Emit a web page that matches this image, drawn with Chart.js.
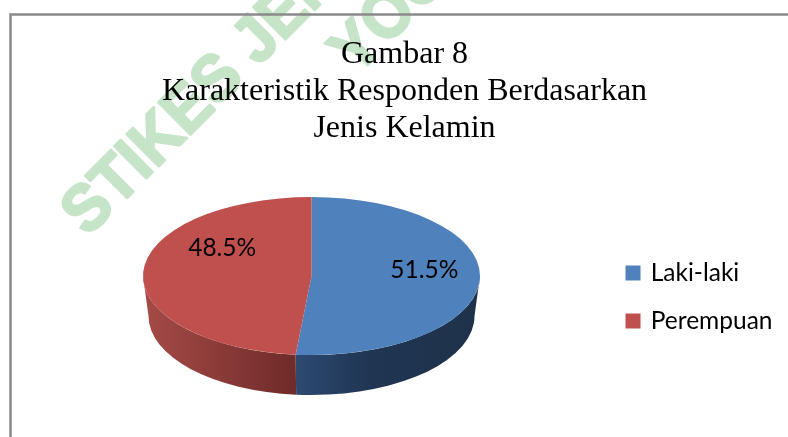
<!DOCTYPE html>
<html>
<head>
<meta charset="utf-8">
<title>Gambar 8</title>
<style>
  html, body { margin: 0; padding: 0; background: #fff; overflow: hidden; }
  #wrap { width: 788px; height: 437px; overflow: hidden; }
  canvas { display: block; }
</style>
<script src="https://cdn.jsdelivr.net/npm/chart.js@4/dist/chart.umd.min.js"></script>
</head>
<body>
<div id="wrap"><canvas id="pie" width="809" height="437"></canvas></div>
<script>
const categories = ['Laki-laki', 'Perempuan'];
const percentValues = [51.5, 48.5];
const sliceColors = ['#4F81BD', '#C0504D'];
const titleLines = ['Gambar 8', 'Karakteristik Responden Berdasarkan', 'Jenis Kelamin'];
const watermarkLines = ['STIKES JENDERAL', 'YOGYAKARTA'];

// the ellipse the round pie gets squashed onto
const tilt = { cx: 311.5, cy: 276, rx: 168.5, ry: 79, depth: 40, lowerRx: 163 };
const labelFont = 'Lato, sans-serif';

const sideGradients = {
    0: [[292, '#2E4B73'], [370, '#1F3552'], [480, '#1F324A']],
    1: [[145, '#A54A47'], [292, '#702C2A']]
};
const labelOffsets = [[0.67, -6], [-0.53, -28]];

function makeGradient(ctx, stops) {
    const first = stops[0][0], last = stops[stops.length - 1][0];
    const g = ctx.createLinearGradient(first, 0, last, 0);
    stops.forEach(s => g.addColorStop((s[0] - first) / (last - first), s[1]));
    return g;
}

const pie3d = {
    id: 'pie3d',
    beforeDraw(chart) {
        // page watermark and the chart frame
        const ctx = chart.ctx;
        ctx.save();
        ctx.fillStyle = '#C6E4C8';
        ctx.strokeStyle = '#C6E4C8';
        ctx.lineWidth = 2.5;
        ctx.lineJoin = 'round';
        ctx.font = 'bold 66px "Liberation Sans"';
        ctx.textBaseline = 'alphabetic';
        ctx.translate(87.5, 237.4);
        ctx.rotate(-45 * Math.PI / 180);
        ctx.scale(0.94, 1);
        ctx.fillText(watermarkLines[0], 0, 0);
        ctx.strokeText(watermarkLines[0], 0, 0);
        ctx.fillText(watermarkLines[1], 323, 76);
        ctx.strokeText(watermarkLines[1], 323, 76);
        ctx.restore();
        ctx.save();
        ctx.strokeStyle = '#8A8A8A';
        ctx.lineWidth = 2.5;
        ctx.beginPath();
        ctx.moveTo(10.5, 437);
        ctx.lineTo(10.5, 14.5);
        ctx.lineTo(809, 14.5);
        ctx.stroke();
        ctx.restore();
    },
    beforeDatasetsDraw(chart) {
        const ctx = chart.ctx;
        const arcs = chart.getDatasetMeta(0).data;
        // side wall, front half of each slice only
        arcs.forEach((arc, i) => {
            const p = arc.getProps(['startAngle', 'endAngle']);
            const a = Math.max(p.startAngle, 0), b = Math.min(p.endAngle, Math.PI);
            if (b <= a) return;
            ctx.beginPath();
            ctx.ellipse(tilt.cx, tilt.cy, tilt.rx, tilt.ry, 0, a, b);
            ctx.ellipse(tilt.cx, tilt.cy + tilt.depth, tilt.lowerRx, tilt.ry, 0, b, a, true);
            ctx.closePath();
            ctx.fillStyle = makeGradient(ctx, sideGradients[i]);
            ctx.fill();
        });
        const first = arcs[0].getProps(['x', 'y', 'outerRadius']);
        ctx.save();
        ctx.translate(tilt.cx, tilt.cy);
        ctx.scale(tilt.rx / first.outerRadius, tilt.ry / first.outerRadius);
        ctx.translate(-first.x, -first.y);
    },
    afterDatasetsDraw(chart) {
        const ctx = chart.ctx;
        ctx.restore();
        ctx.save();
        ctx.fillStyle = '#000';
        ctx.font = '24.5px ' + labelFont;
        ctx.textAlign = 'center';
        ctx.textBaseline = 'middle';
        chart.getDatasetMeta(0).data.forEach((arc, i) => {
            const x = tilt.cx + labelOffsets[i][0] * tilt.rx;
            const y = tilt.cy + labelOffsets[i][1];
            ctx.fillText(percentValues[i].toFixed(1) + '%', x, y);
        });
        ctx.restore();
    }
};

new Chart(document.getElementById('pie').getContext('2d'), {
    type: 'pie',
    data: {
        labels: categories,
        datasets: [{
            data: percentValues,
            backgroundColor: sliceColors,
            borderWidth: 0,
            clip: false
        }]
    },
    options: {
        responsive: false,
        animation: false,
        layout: { padding: { left: 26.5, right: 26.5, top: 0, bottom: 0 } },
        plugins: {
            tooltip: { enabled: false },
            title: {
                display: true,
                text: titleLines,
                color: '#000',
                font: { family: '"Liberation Serif"', size: 32, weight: 'normal', lineHeight: 1.156 },
                padding: { top: 36, bottom: 10 }
            },
            legend: {
                position: 'right',
                fullSize: false,
                labels: {
                    color: '#000',
                    font: { family: labelFont, size: 24.5 },
                    boxWidth: 11,
                    boxHeight: 11,
                    padding: 23.5,
                    // thick same-colour outline keeps the text close to the swatch
                    generateLabels: chart => Chart.overrides.pie.plugins.legend.labels.generateLabels(chart)
                        .map(l => ({ ...l, lineWidth: 4, strokeStyle: l.fillStyle }))
                }
            }
        }
    },
    plugins: [pie3d]
});
</script>
</body>
</html>
